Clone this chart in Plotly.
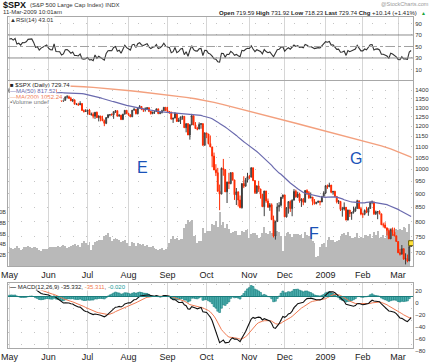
import math
import plotly.graph_objects as go

# ---------------- data ----------------
# S&P 500 closes Mar-Apr 2008 (warm-up for the indicators, not drawn as candles)
warmup_close = [1331.34, 1326.75, 1333.70, 1304.34, 1293.37, 1273.37, 1320.65, 1308.77, 1315.48, 1288.14,
                1276.60, 1330.74, 1298.42, 1329.51, 1349.88, 1352.99, 1341.13, 1325.76, 1315.22, 1322.70,
                1370.18, 1367.53, 1369.31, 1370.40, 1372.54, 1365.54, 1354.49, 1360.55, 1332.83, 1328.32,
                1334.43, 1364.71, 1365.56, 1390.33, 1388.17, 1375.94, 1379.93, 1388.82, 1397.84, 1396.37,
                1390.94, 1385.59]

close = [
    # May 2008
    1409.34, 1413.90, 1407.49, 1418.26, 1392.57, 1397.68, 1388.28, 1403.58, 1403.04, 1408.66, 1423.57,
    1425.35, 1426.63, 1413.40, 1390.71, 1394.35, 1375.93, 1385.35, 1390.84, 1398.26, 1400.38,
    # Jun
    1385.67, 1377.65, 1377.20, 1404.05, 1360.68, 1361.76, 1358.44, 1335.49, 1339.87, 1360.03, 1360.14,
    1350.93, 1337.81, 1342.83, 1317.93, 1318.00, 1314.29, 1321.97, 1283.15, 1278.38, 1280.00,
    # Jul
    1284.91, 1261.52, 1262.90, 1252.31, 1273.70, 1244.69, 1253.39, 1239.49, 1228.30, 1214.91, 1245.36,
    1260.32, 1260.68, 1260.00, 1277.00, 1282.19, 1252.54, 1257.76, 1234.37, 1263.20, 1284.26, 1267.38,
    # Aug
    1260.31, 1249.01, 1284.88, 1289.19, 1266.07, 1296.32, 1305.32, 1289.59, 1285.83, 1292.93, 1298.20,
    1278.60, 1266.69, 1274.54, 1277.72, 1292.20, 1266.84, 1271.51, 1281.66, 1300.68, 1282.83,
    # Sep
    1277.58, 1274.98, 1236.83, 1242.31, 1267.79, 1224.51, 1232.04, 1249.05, 1251.70, 1192.70, 1213.60,
    1156.39, 1206.51, 1255.08, 1207.09, 1188.22, 1185.87, 1209.18, 1213.27, 1106.39, 1166.36,
    # Oct
    1161.06, 1114.28, 1099.23, 1056.89, 996.23, 984.94, 909.92, 899.22, 1003.35, 998.01, 907.84,
    946.43, 940.55, 985.40, 955.05, 896.78, 908.11, 876.77, 848.92, 940.51, 930.09, 954.09, 968.75,
    # Nov
    966.30, 1005.75, 952.77, 904.88, 930.99, 919.21, 898.95, 852.30, 911.29, 873.29, 850.75,
    859.12, 806.58, 752.44, 800.03, 851.81, 857.39, 887.68, 896.24,
    # Dec
    816.21, 848.81, 870.74, 845.22, 876.07, 909.70, 888.67, 899.24, 873.59, 879.73, 868.57,
    913.18, 904.42, 885.28, 887.88, 871.63, 863.16, 868.15, 872.80, 869.42, 890.64, 903.25,
    # Jan 2009
    931.80, 927.45, 934.70, 906.65, 909.73, 890.35, 870.26, 871.79, 842.62, 843.74, 850.12,
    805.22, 840.24, 827.50, 831.95, 836.57, 845.71, 874.09, 845.14, 825.88,
    # Feb
    825.44, 838.51, 832.23, 845.85, 868.60, 869.89, 827.16, 833.74, 835.19, 826.84, 789.17,
    788.42, 778.94, 770.05, 743.33, 773.14, 764.90, 752.83, 735.09,
    # Mar
    700.82, 696.33, 712.87, 682.55, 683.38, 676.53, 719.60, 729.74]

high = [
    1415, 1422.7, 1415.5, 1421.6, 1419, 1404, 1398, 1404, 1410, 1420, 1424, 1425.8, 1440.2, 1426.6, 1419, 1399, 1394, 1387, 1397, 1404, 1404.3,
    1403, 1397, 1388, 1405.3, 1404, 1370, 1366, 1364, 1353, 1361, 1370, 1367, 1360, 1347, 1343, 1323, 1326, 1335, 1322, 1289, 1290.7,
    1285, 1292, 1272, 1273, 1274, 1277, 1257, 1254, 1255, 1234.4, 1246, 1262.3, 1262.2, 1267.7, 1277.4, 1284.7, 1282.2, 1263, 1260.1, 1264.8, 1284.9, 1284.3,
    1270.5, 1260.3, 1285, 1298.9, 1289.2, 1297.9, 1313.2, 1305.3, 1294.4, 1300.4, 1300.2, 1300.2, 1280.7, 1276.7, 1280.6, 1293.2, 1292.2, 1275.8, 1287.2, 1300.7, 1300.7,
    1303, 1280.7, 1275, 1243, 1274.4, 1268.7, 1243.7, 1249.1, 1255.1, 1250.9, 1214, 1214, 1211.1, 1265.1, 1255.1, 1221.2, 1197.4, 1220, 1215.8, 1209.7, 1169,
    1167, 1161, 1153.8, 1099.2, 1072.9, 1021.1, 1005.3, 936.4, 1006.9, 1044.3, 999.3, 948.3, 984.4, 985.4, 985.4, 955.1, 922.8, 908.1, 893.8, 940.5, 969.97, 963.2, 984.4,
    975.5, 1007.5, 1005.7, 952.8, 933.5, 951.4, 919.2, 899, 911.3, 911.3, 882.3, 865.9, 864.6, 820.5, 801.2, 865.6, 868.9, 887.7, 896.3,
    896.2, 850.5, 873.1, 875.6, 879.4, 918.6, 916.3, 908.3, 904.6, 883.7, 884.6, 914.7, 918, 911, 905.5, 887.9, 880.4, 869.8, 874, 873.7, 891.1, 910.3,
    934.7, 936.6, 943.9, 934.7, 910, 911.9, 890.4, 877, 871.8, 851.6, 868, 849.6, 841.7, 840.2, 833, 852.5, 852.5, 877.9, 874.1, 851.7,
    830.8, 842.6, 851.9, 850.6, 870.7, 875, 869.9, 838.2, 835.2, 839.4, 826.8, 796.2, 797.6, 779.4, 777.5, 775.5, 780.1, 779.4, 754.1,
    735.1, 712.1, 724.1, 712.9, 699.1, 695.3, 719.7, 731.92]

low = [
    1384, 1406, 1404, 1397, 1389, 1389, 1381, 1386, 1398, 1401, 1403, 1414.9, 1419, 1401, 1388, 1385, 1373, 1373, 1383, 1388, 1392,
    1377, 1370, 1368, 1377, 1359, 1350, 1351, 1333, 1332, 1339, 1350, 1350, 1335, 1330, 1317, 1313, 1309, 1314, 1283, 1272, 1274.9,
    1260.7, 1261, 1255, 1240.7, 1238, 1244, 1225, 1225.4, 1227, 1200.4, 1211, 1241.5, 1251.8, 1255.7, 1238.5, 1270, 1251.5, 1251, 1234.4, 1234.4, 1264, 1263,
    1254.5, 1247.6, 1249, 1283.2, 1262, 1262, 1296.3, 1284.9, 1274.9, 1276.9, 1286.8, 1274.5, 1261, 1263, 1264.9, 1277.7, 1263, 1263, 1267.5, 1282, 1282.8,
    1272.2, 1265, 1236.8, 1217.2, 1242.3, 1224.5, 1221.6, 1211.5, 1233.8, 1192.7, 1169.3, 1155.9, 1133.5, 1206.5, 1205.6, 1187.1, 1179.8, 1185.5, 1187.5, 1106.4, 1106.4,
    1140.8, 1111.3, 1098.1, 1008, 996.2, 970.97, 909.2, 839.8, 899.2, 972.1, 907.7, 865.8, 918.7, 937.4, 952.5, 877.2, 858.4, 852.9, 846.8, 845.3, 922.3, 928.5, 944.6,
    958.6, 966.3, 949.9, 899.7, 899.7, 907.5, 882.1, 852.3, 818.7, 866.5, 848.9, 837.5, 806.2, 747.8, 741.0, 800, 835, 852.4, 881.2,
    815.7, 814, 827.6, 833.6, 818.4, 876.1, 885.4, 884.3, 866.8, 851.4, 857.7, 868.6, 895.7, 881.2, 883, 857.7, 860.2, 861.4, 866.5, 857.1, 870, 889.4,
    899.4, 919.5, 927.3, 902.4, 896.8, 888.3, 864.3, 862, 836.9, 817, 838.4, 804.5, 804.3, 815.7, 806.1, 827.7, 834.3, 845.7, 844.6, 821.7,
    812.9, 821.8, 829.2, 819.9, 845.8, 861.4, 822.8, 822.8, 808.1, 825.2, 789.1, 780.1, 777, 754.3, 743.3, 743.3, 752.9, 751.8, 734.5,
    699.7, 692.5, 696.3, 679.7, 666.8, 672.9, 676.5, 718.23]

# each day opens at the prior close (last bar: quoted open 719.59)
open_ = [warmup_close[-1]] + close[:-1]
open_[-1] = 719.59

# daily volume, billions of shares
volume_b = [
    3.6, 3.3, 3.2, 3.4, 3.7, 3.3, 3.0, 3.2, 3.5, 3.6, 3.7, 3.6, 3.4, 3.6, 3.5, 3.3, 3.0, 2.8, 3.2, 3.1, 3.2,
    3.3, 3.6, 3.6, 3.5, 3.6, 3.7, 3.5, 3.8, 3.9, 3.7, 3.4, 3.5, 3.8, 3.9, 4.1, 3.7, 3.9, 3.6, 4.3, 4.6, 4.2,
    3.9, 4.5, 3.0, 3.9, 4.4, 4.7, 4.9, 4.8, 4.9, 5.6, 5.8, 6.2, 5.4, 4.6, 5.1, 5.3, 5.0, 4.9, 4.5, 4.6, 4.9, 4.3,
    3.7, 3.8, 4.4, 4.2, 3.8, 4.2, 4.0, 3.9, 4.0, 3.7, 3.9, 3.5, 3.6, 3.7, 3.4, 3.2, 3.0, 3.1, 3.3, 3.0, 3.1,
    3.6, 4.3, 5.1, 5.5, 5.1, 5.3, 4.9, 5.1, 5.0, 7.1, 7.8, 8.5, 8.2, 8.6, 5.6, 5.7, 4.3, 4.6, 4.6, 7.0, 6.2,
    6.5, 6.5, 6.6, 7.9, 7.6, 8.3, 7.3, 10.0, 7.7, 8.2, 7.0, 7.8, 6.9, 6.2, 6.4, 6.6, 6.6, 5.8, 5.8, 6.6, 6.3, 6.7, 6.9,
    5.2, 6.0, 6.1, 6.2, 5.7, 5.3, 5.4, 6.1, 7.3, 6.2, 5.9, 6.6, 6.2, 7.6, 8.5, 6.5, 6.4, 5.5, 2.8,
    5.6, 6.2, 6.4, 5.9, 5.4, 6.0, 5.9, 6.0, 5.7, 5.9, 5.3, 6.4, 5.8, 5.6, 7.1, 4.6, 4.2, 1.6, 1.8, 3.5, 4.1, 4.2,
    3.6, 4.9, 5.4, 4.9, 4.9, 4.4, 4.6, 4.8, 5.5, 6.0, 6.1, 5.8, 6.3, 5.5, 5.3, 5.2, 5.4, 6.2, 5.3, 5.4,
    5.2, 5.7, 5.8, 5.6, 5.9, 5.3, 6.3, 5.8, 6.5, 5.3, 5.4, 5.7, 5.3, 6.5, 6.3, 7.0, 6.8, 6.0, 6.8,
    6.7, 6.8, 6.7, 7.3, 7.1, 6.3, 7.8, 0.0]

# 200-day moving average (weekly readings)
ma200_idx = [0, 5, 10, 15, 20, 25, 30, 35, 40, 45, 50, 55, 60, 65, 70, 75, 80, 85, 90, 95, 100, 105,
             110, 115, 120, 125, 130, 135, 140, 145, 150, 155, 160, 165, 170, 175, 180, 185, 190, 195,
             200, 205, 210, 215, 216]
ma200_val = [1440, 1438, 1436, 1434, 1432, 1429, 1426, 1423, 1420, 1416, 1412, 1407, 1402, 1396, 1390,
             1384, 1378, 1371, 1364, 1357, 1349, 1340, 1328, 1316, 1303, 1291, 1278, 1265, 1252, 1239,
             1226, 1213, 1200, 1188, 1176, 1164, 1152, 1140, 1128, 1116, 1104, 1090, 1073, 1055, 1052.24]

month_idx = [0, 21, 42, 64, 85, 106, 129, 148, 170, 190, 209]
month_lbl = ["May", "Jun", "Jul", "Aug", "Sep", "Oct", "Nov", "Dec", "2009", "Feb", "Mar"]
price_ticks = [700, 750, 800, 850, 900, 950, 1000, 1050, 1100, 1150, 1200, 1250, 1300, 1350, 1400]
rsi_ticks = [10, 30, 50, 70, 90]
macd_ticks = [20, 0, -20, -40, -60, -80]
vol_ticks = [2, 4, 6, 8, 10]

assert len(close) == len(high) == len(low) == len(volume_b) == 217
assert len(ma200_idx) == len(ma200_val)

# ---------------- indicators (standard StockCharts definitions) ----------------
full = warmup_close + close
nw = len(warmup_close)


def ema(vals, n):
    k = 2.0 / (n + 1)
    out = [vals[0]]
    for v in vals[1:]:
        out.append(out[-1] + k * (v - out[-1]))
    return out


def rsi(vals, n=14):
    gains = [max(vals[i] - vals[i - 1], 0) for i in range(1, len(vals))]
    losses = [max(vals[i - 1] - vals[i], 0) for i in range(1, len(vals))]
    ag = sum(gains[:n]) / n
    al = sum(losses[:n]) / n
    out = [None] * (n + 1)
    out[n] = 100 - 100 / (1 + ag / al) if al else 100
    for i in range(n, len(gains)):
        ag = (ag * (n - 1) + gains[i]) / n
        al = (al * (n - 1) + losses[i]) / n
        out.append(100 - 100 / (1 + ag / al) if al else 100)
    return out


rsi_full = rsi(full)
e12, e26 = ema(full, 12), ema(full, 26)
macd_full = [a - b for a, b in zip(e12, e26)]
sig_full = ema(macd_full, 9)
ma50_full = [None if i < 49 else sum(full[i - 49:i + 1]) / 50 for i in range(len(full))]

rsi_v = rsi_full[nw:]
macd_v = macd_full[nw:]
sig_v = sig_full[nw:]
hist_v = [m - s for m, s in zip(macd_v, sig_v)]
ma50_v = ma50_full[nw:]

idx = list(range(len(close)))

# ---------------- figure ----------------
W, H = 432, 362
ML, MR, MT, MB = 8, 19, 17, 14
PW, PH = W - ML - MR, H - MT - MB


def py(p):  # pixel row -> paper y
    return (H - MB - p) / PH


def px(p):  # pixel column -> paper x
    return (p - ML) / PW


FONT = "Liberation Sans, Arial, sans-serif"
NARROW = "Liberation Sans Narrow, Arial Narrow, Liberation Sans, Arial, sans-serif"
RED = "#ff2a00"
BLUE_MA = "#6a6aae"
ORANGE_MA = "#f3a07e"
GRID = "#d6d6d6"
FRAME = "#a8a8a8"

fig = go.Figure()

# RSI
fig.add_trace(go.Scatter(x=idx, y=rsi_v, mode="lines", line=dict(color="#333333", width=1.1),
                         xaxis="x", yaxis="y", hoverinfo="skip"))

# volume (base axis of the price pane)
fig.add_trace(go.Bar(x=idx, y=volume_b, marker=dict(color="#b9b9b9", line=dict(width=0)),
                     xaxis="x2", yaxis="y2", hoverinfo="skip"))

# candles
fig.add_trace(go.Candlestick(x=idx, open=open_, high=high, low=low, close=close,
                             xaxis="x2", yaxis="y3", whiskerwidth=0,
                             increasing=dict(line=dict(color="#3c3c3c", width=1), fillcolor="#9c9c9c"),
                             decreasing=dict(line=dict(color=RED, width=1), fillcolor=RED),
                             hoverinfo="skip"))
# moving averages
fig.add_trace(go.Scatter(x=ma200_idx, y=ma200_val, mode="lines", line=dict(color=ORANGE_MA, width=1.4),
                         xaxis="x2", yaxis="y3", hoverinfo="skip"))
fig.add_trace(go.Scatter(x=idx, y=ma50_v, mode="lines", line=dict(color=BLUE_MA, width=1.2),
                         xaxis="x2", yaxis="y3", hoverinfo="skip"))
# last price marker
fig.add_trace(go.Scatter(x=[idx[-1]], y=[close[-1]], mode="markers",
                         marker=dict(symbol="square", size=5, color="#ffe23a", line=dict(color="#6b5b00", width=1)),
                         xaxis="x2", yaxis="y3", hoverinfo="skip"))

# MACD
fig.add_trace(go.Bar(x=idx, y=hist_v, marker=dict(color="#58b8b8", line=dict(color="#137a7a", width=0.6)),
                     xaxis="x3", yaxis="y4", hoverinfo="skip"))
fig.add_trace(go.Scatter(x=idx, y=sig_v, mode="lines", line=dict(color="#f07a52", width=1),
                         xaxis="x3", yaxis="y4", hoverinfo="skip"))
fig.add_trace(go.Scatter(x=idx, y=macd_v, mode="lines", line=dict(color="#111111", width=1.1),
                         xaxis="x3", yaxis="y4", hoverinfo="skip"))

xr = [-0.8, 217.0]
xcommon = dict(range=xr, tickmode="array", tickvals=month_idx, ticktext=month_lbl, showgrid=True,
               gridcolor=GRID, gridwidth=1, showline=True, mirror=True, linecolor=FRAME, linewidth=1,
               zeroline=False, ticks="", ticklen=0, fixedrange=True, automargin=False)
ycommon = dict(showline=True, mirror=True, linecolor=FRAME, linewidth=1, zeroline=False, ticks="",
               ticklen=0, tickfont=dict(size=6, color="#333", family=FONT), fixedrange=True,
               automargin=False)

rsi_dom = [py(80), 1.0]
price_dom = [py(266), py(81)]
macd_dom = [0.0, py(283)]

fig.update_layout(
    template="none",
    width=W, height=H, margin=dict(l=ML, r=MR, t=MT, b=MB, pad=0, autoexpand=False),
    paper_bgcolor="white", plot_bgcolor="white", showlegend=False, bargap=0,
    font=dict(family=FONT, size=6, color="#333"),
    xaxis=dict(xcommon, domain=[0, 1], anchor="y", showticklabels=False),
    xaxis2=dict(xcommon, domain=[0, 1], anchor="y2", matches="x", showticklabels=True,
                tickfont=dict(size=9, color="#222", family=NARROW), rangeslider=dict(visible=False)),
    xaxis3=dict(xcommon, domain=[0, 1], anchor="y4", matches="x", showticklabels=True,
                tickfont=dict(size=9, color="#222", family=NARROW)),
    yaxis=dict(ycommon, domain=rsi_dom, anchor="x", side="right", range=[-8.3, 101.3],
               tickvals=rsi_ticks, showgrid=True, gridcolor="#c4c4c4", griddash="1px,12px"),
    yaxis2=dict(ycommon, domain=price_dom, anchor="x2", side="left", range=[0, 34.4],
                tickvals=vol_ticks, ticktext=[f"{v}B" for v in vol_ticks], showgrid=False,
                tickfont=dict(size=5.5, color="#333", family=FONT)),
    yaxis3=dict(ycommon, anchor="x2", overlaying="y2", side="right", type="log",
                range=[math.log10(662.3), math.log10(1454.7)], tickvals=price_ticks,
                showgrid=True, gridcolor="#c4c4c4", griddash="1px,12px"),
    yaxis4=dict(ycommon, domain=macd_dom, anchor="x3", side="right", range=[-85.8, 22.5],
                tickvals=macd_ticks, ticklabelshift=6, showgrid=True, gridcolor="#c4c4c4",
                griddash="1px,12px"),
)

shapes = []
# RSI reference lines
shapes.append(dict(type="line", xref="x domain", yref="y", x0=0, x1=1, y0=70, y1=70,
                   line=dict(color="#8c8c8c", width=1)))
shapes.append(dict(type="line", xref="x domain", yref="y", x0=0, x1=1, y0=30, y1=30,
                   line=dict(color="#8c8c8c", width=1)))
shapes.append(dict(type="line", xref="x domain", yref="y", x0=0, x1=1, y0=50, y1=50,
                   line=dict(color="#a0a0a0", width=1, dash="dashdot")))
# MACD zero line
shapes.append(dict(type="line", xref="x3 domain", yref="y4", x0=0, x1=1, y0=0, y1=0,
                   line=dict(color="#1a7c7c", width=1)))

# E, F, G callouts (index, price)
callouts = [("E", (74.5, 1031), (103.5, 1118), (71.5, 1006)),
            ("F", (146.0, 768), (160.5, 758), (163.8, 761)),
            ("G", (184.2, 1021), (172.4, 943.5), (186.4, 1048))]
CALL = "#1a52b8"
anns = []
for lab, p0, p1, pt in callouts:
    shapes.append(dict(type="line", xref="x2", yref="y3", x0=p0[0], x1=p1[0],
                       y0=math.log10(p0[1]), y1=math.log10(p1[1]), line=dict(color=CALL, width=2)))
    anns.append(dict(text=lab, xref="x2", yref="y3", x=pt[0], y=math.log10(pt[1]), showarrow=False,
                     font=dict(size=16, color=CALL, family=FONT)))

fig.update_layout(shapes=shapes)


def label(text, x, y, size=6, color="#333", anchor="left", bg=None, family=FONT):
    d = dict(text=text, xref="paper", yref="paper", x=px(x), y=py(y), xanchor=anchor, yanchor="middle",
             showarrow=False, font=dict(size=size, color=color, family=family), borderpad=0)
    if bg:
        d["bgcolor"] = bg
    anns.append(d)


# header
label("<b>$SPX</b>", 2, 5, size=9, color="#111")
label("(S&P 500 Large Cap Index) INDX", 29, 5, size=6, color="#333")
label("11-Mar-2009 10:01am", 2, 12, size=6, color="#333")
label("@StockCharts.com", 430, 4, size=5.5, color="#999", anchor="right")
label("<b>Open</b> 719.59 <b>High</b> 731.92 <b>Low</b> 718.23 <b>Last</b> 729.74 "
      "<b>Chg</b> +10.14 (+1.41%)", 418, 12.5, size=6, color="#222", anchor="right")
label("▲", 423, 12.5, size=5, color="#1aa33a", anchor="center")

# pane legends
label("<b>▲</b>RSI(14) 43.01", 9, 20, size=6, color="#333", bg="white")
label("<b>■</b> $SPX (Daily) 729.74", 9, 85, size=6, color="#222", bg="white")
label(f"<span style='color:{BLUE_MA}'>—</span>MA(50) 817.52", 9, 91, size=6, color=BLUE_MA, bg="white")
label(f"<span style='color:{ORANGE_MA}'>—</span>MA(200) 1052.24", 9, 96.5, size=6, color="#f07a52", bg="white")
label("▪Volume undef", 9, 102, size=6, color="#777", bg="white")
label("<b>—</b> MACD(12,26,9) -35.332, <span style='color:#f07a52'>-35.311</span>, "
      "<span style='color:#1a9a9a'>-0.020</span>", 9, 287, size=6, color="#222", bg="white")

fig.update_layout(annotations=anns)

fig.write_html("out.html", config={"displayModeBar": False, "staticPlot": True},
               post_script="document.body.style.margin='0';document.body.style.padding='0';"
                           "document.body.style.overflow='hidden';")
